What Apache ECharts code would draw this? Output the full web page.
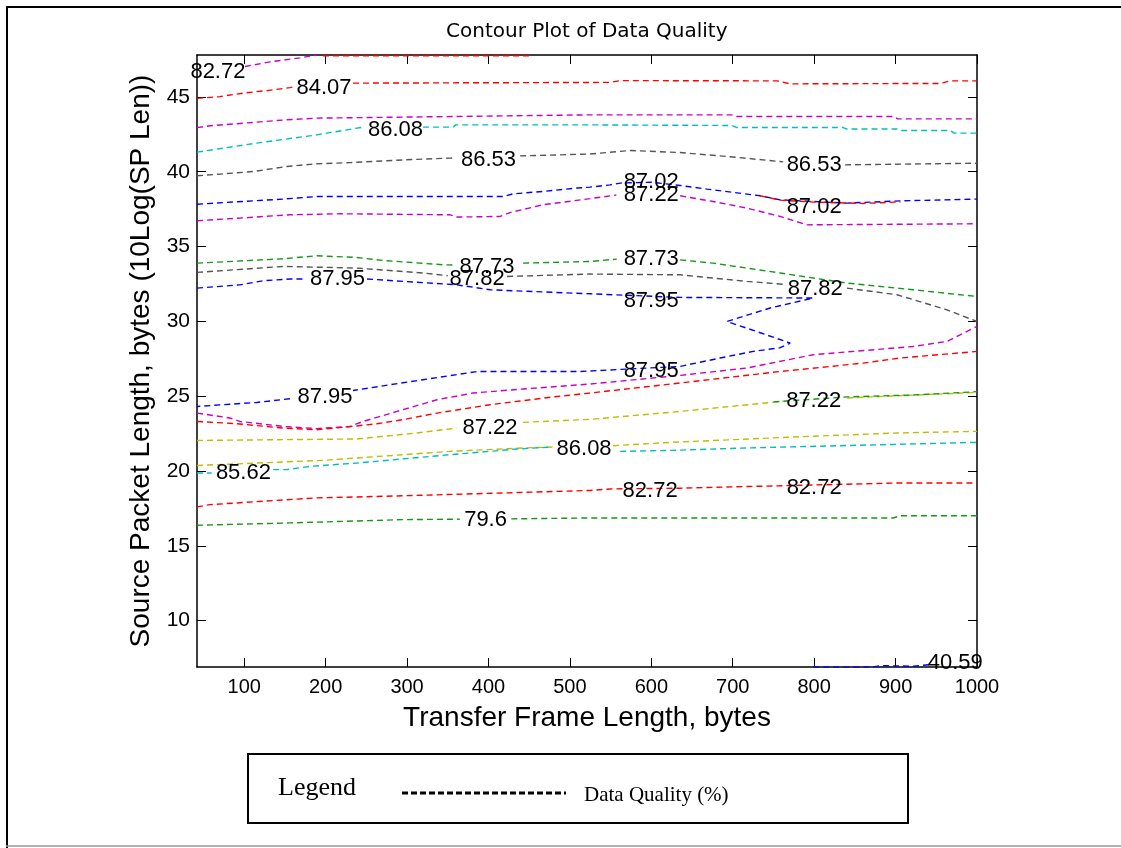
<!DOCTYPE html>
<html><head><meta charset="utf-8">
<script src="https://cdn.jsdelivr.net/npm/echarts@6/dist/echarts.min.js"></script>
<style>html,body{margin:0;padding:0;background:#fff}#c{width:1121px;height:848px}</style>
</head><body><div id="c"></div>
<script>
// ---- data ----
const xTicks = [100, 200, 300, 400, 500, 600, 700, 800, 900, 1000];
const yTicks = [10, 15, 20, 25, 30, 35, 40, 45];

// contour lines, each a list of segments of [x, y] points
const redTop = [[[196.7,47.75],[451.1,47.75]]];
const magentaTop = [[[100.9,47.03],[131.6,47.34],[168.4,47.61],[189,47.8]]];
const red8407 = [
  [[42,44.9],[70.1,45.02],[100.9,45.27],[127.9,45.42],[156.2,45.62],[160,45.66]],
  [[233.6,45.92],[549.4,45.97],[561.7,46.09],[754.6,46.07],[770.6,45.87],[954.9,45.9],[967.2,46.07],[1000,46.07]]
];
const magenta85 = [[[42,42.95],[57.9,43.07],[152.1,43.47],[189,43.58],[524.8,43.8],[698.9,43.8],[705,43.69],[897.1,43.69],[903,43.53],[1000,43.53]]];
const cyan8608 = [
  [[42,41.31],[115.2,41.91],[189,42.46],[245.9,42.98],[248,42.98]],
  [[319.6,42.98],[356.4,42.98],[360,43.13],[524.8,43.13],[698.9,43.09],[705,42.95],[835.7,42.95],[840,42.85],[902,42.85],[906,42.75],[967.2,42.75],[972,42.58],[1000,42.58]]
];
const gray8653 = [
  [[42,39.73],[70.1,39.84],[110.7,40.01],[152.1,40.35],[189,40.53],[229.9,40.61],[295,40.79],[352.8,40.91],[358,40.92]],
  [[438.8,41.06],[524.8,41.18],[574,41.42],[635.4,41.28],[692.8,41.02],[758.3,40.68],[762,40.66]],
  [[838,40.46],[1000,40.57]]
];
const blue8702 = [[[42,37.83],[147.6,38.17],[189,38.34],[417.9,38.34],[430.2,38.52],[467,38.68],[508.9,38.91],[524.8,38.97],[549.4,39.12],[561.7,39.24],[600,39.3],[635.4,39.08],[668.2,38.84],[733.7,38.39],[758.3,38.12],[840.2,37.9],[905.7,38.05],[1000,38.17]]];
const red8702 = [[[733.7,38.39],[758.3,38.1],[800,37.97],[860,37.88],[906,37.98]]];
const magenta8722 = [
  [[42,36.72],[156.2,37.12],[217.6,37.19],[352.8,37.12],[361,36.97],[414.2,37.01],[426.5,37.27],[467,37.79],[524.8,38.2],[557,38.44]],
  [[635.4,38.39],[675.9,38.01],[717.3,37.57],[758.3,37.01],[791.1,36.45],[1000,36.52]]
];
const green8773 = [
  [[42,33.89],[147.6,34.18],[189,34.38],[238.1,34.27],[270.8,34.07],[344.2,33.78],[358,33.76]],
  [[442.5,33.89],[524.8,34.0],[557.6,34.16]],
  [[635.4,34.11],[675.9,33.89],[717.3,33.56],[758.3,33.23],[840.2,32.56],[921.7,32.11],[1000,31.66]]
];
const gray8782 = [
  [[42,33.27],[147.6,33.67],[238.1,33.56],[319.6,33.23],[350,33.05]],
  [[422.8,33.0],[524.8,33.16],[635.4,33.11],[717.3,32.67],[762,32.48]],
  [[840.2,32.22],[901.7,31.78],[963.1,30.77],[1000,29.99]]
];
const blue8795 = [
  [[42,32.22],[94.7,32.44],[123,32.71],[156.2,32.83],[174,32.83]],
  [[250.8,32.83],[361.4,32.44],[401.9,32.11],[524.8,31.84],[635.4,31.6],[798.8,31.56],[746,30.89],[692.8,29.99],[733.7,29.24],[770.6,28.55],[758.3,28.24],[725.1,27.99],[684.5,27.55],[635.4,26.99],[512.5,26.65],[386,26.65],[319.6,26.1],[279,25.76],[233.6,25.38]],
  [[156.2,24.83],[115.2,24.58],[42,24.31]]
];
const magentaLow = [[[42,23.87],[82.4,23.54],[94.7,23.31],[147.6,22.98],[189,22.83],[229.9,22.98],[245.9,23.31],[287.6,23.98],[336.8,24.76],[381,25.21],[442.5,25.48],[524.8,25.81],[635.4,26.39],[717.3,26.88],[798.8,27.77],[921.7,28.32],[963.1,28.66],[1000,29.66]]];
const redLow = [[[42,23.31],[90.7,23.16],[147.6,22.87],[189,22.76],[226.2,22.94],[263.1,23.16],[295,23.43],[336.8,23.87],[401.9,24.43],[484.3,24.98],[524.8,25.21],[635.4,25.88],[758.3,26.65],[860.2,27.21],[905.7,27.55],[1000,27.99]]];
const yellow8722 = [
  [[42,22.04],[238.5,22.14],[312.2,22.54],[361,22.87]],
  [[442.5,23.25],[524.8,23.45],[635.4,23.98],[762,24.66]],
  [[840.6,24.88],[1000,25.25]]
];
const green8722 = [[[750,24.62],[840.6,24.95],[921.7,25.08],[1000,25.3]]];
const yellowLow = [
  [[42,20.37],[196.7,20.71],[352.8,21.31],[442.5,21.54],[480,21.6]],
  [[553.1,21.69],[623.1,21.91],[774.3,22.27],[902,22.54],[1000,22.65]]
];
const cyanLow = [
  [[42,19.87],[60,19.87]],
  [[135.6,20.09],[152.5,20.09],[180.7,20.31],[238.5,20.53],[352.8,21.09],[435.1,21.47],[478,21.6]],
  [[561.7,21.31],[626.8,21.38],[717.3,21.54],[1000,21.91]]
];
const red8272 = [[[42,17.6],[57.9,17.75],[152.5,18.08],[189.3,18.2],[299.9,18.35],[442.5,18.57],[524.8,18.7],[549.4,18.8],[635.4,18.85],[725.1,18.97],[905.7,19.2],[1000,19.2]]];
const green796 = [
  [[42,16.37],[156.2,16.53],[295,16.75],[365,16.78]],
  [[428,16.8],[524.8,16.86],[897.1,16.86],[905.7,17.01],[1000,17.01]]
];
const blueBottom = [[[798.8,6.9],[872.5,6.9],[881.1,6.99],[921.7,6.95],[942.6,7.06]]];

// contour labels: [x, y, text]
const contourLabels = [
  [67.7,46.67,'82.72'],[197.9,45.6,'84.07'],[285.8,42.77,'86.08'],[400.1,40.76,'86.53'],
  [800,40.48,'86.53'],[599.8,39.29,'87.02'],[600,38.44,'87.22'],[800,37.62,'87.02'],
  [398.2,33.65,'87.73'],[386,32.85,'87.82'],[214.5,32.81,'87.95'],[599.8,34.15,'87.73'],
  [801.3,32.18,'87.82'],[599.8,31.34,'87.95'],[599.8,26.68,'87.95'],[199.2,24.93,'87.95'],
  [401.9,22.89,'87.22'],[799.4,24.66,'87.22'],[517.4,21.49,'86.08'],[99,19.87,'85.62'],
  [598.5,18.64,'82.72'],[800,18.86,'82.72'],[396.4,16.75,'79.6'],[973.3,7.19,'40.59']
];

// ---- styling ----
const C = {red:'#ff0000', magenta:'#c800c8', cyan:'#00bebe', gray:'#555555', blue:'#0000ff', green:'#159915', yellow:'#bebe00'};
const contours = [
  [redTop, C.red], [magentaTop, C.magenta], [red8407, C.red], [magenta85, C.magenta],
  [cyan8608, C.cyan], [gray8653, C.gray], [blue8702, C.blue], [red8702, C.red],
  [magenta8722, C.magenta], [green8773, C.green], [gray8782, C.gray], [blue8795, C.blue],
  [magentaLow, C.magenta], [redLow, C.red], [yellow8722, C.yellow], [green8722, C.green],
  [yellowLow, C.yellow], [cyanLow, C.cyan], [red8272, C.red], [green796, C.green], [blueBottom, C.blue]
];

const FONT = 'Liberation Sans, Arial, sans-serif';
const SERIF = 'Liberation Serif, Times New Roman, serif';
const series = [];
contours.forEach(([segs, color]) => {
  segs.forEach(seg => {
    series.push({
      type: 'line', data: seg, showSymbol: false, symbol: 'none', silent: true,
      lineStyle: {color: color, width: 1.4, type: [6, 4]}, z: 2
    });
  });
});
series.push({
  type: 'scatter', data: contourLabels, symbolSize: 1, silent: true, z: 5,
  itemStyle: {color: 'rgba(0,0,0,0)'},
  encode: {x: 0, y: 1},
  label: {show: true, position: 'inside', formatter: p => p.data[2], fontSize: 22,
    color: '#000', textBorderWidth: 0, textBorderColor: 'transparent', opacity: 1, fontFamily: FONT}
});

const axisCommon = {
  axisLine: {show: true, onZero: false, lineStyle: {color: '#000', width: 1.5}},
  splitLine: {show: false}
};
const chart = echarts.init(document.getElementById('c'), null, {renderer: 'canvas'});
chart.setOption({
  animation: false,
  backgroundColor: '#fff',
  title: {text: 'Contour Plot of Data Quality', left: 441, top: 17,
    textStyle: {fontSize: 20, fontWeight: 'normal', color: '#000', fontFamily: 'DejaVu Sans, sans-serif'}},
  grid: {left: 197, right: 144, top: 55, bottom: 181},
  xAxis: [
    Object.assign({type: 'value', min: 42, max: 1000, position: 'bottom',
      axisTick: {show: true, inside: true, length: 9, customValues: xTicks, lineStyle: {color: '#000'}},
      axisLabel: {customValues: xTicks, formatter: v => String(v), fontSize: 20, color: '#000', margin: 10, fontFamily: FONT},
      name: 'Transfer Frame Length, bytes', nameLocation: 'middle', nameGap: 37,
      nameTextStyle: {fontSize: 28, color: '#000', fontFamily: FONT}}, axisCommon),
    Object.assign({type: 'value', min: 42, max: 1000, position: 'top',
      axisTick: {show: true, inside: true, length: 9, customValues: xTicks, lineStyle: {color: '#000'}},
      axisLabel: {show: false}}, axisCommon)
  ],
  yAxis: [
    Object.assign({type: 'value', min: 6.9, max: 47.8, position: 'left',
      axisTick: {show: true, inside: true, length: 9, customValues: yTicks, lineStyle: {color: '#000'}},
      axisLabel: {customValues: yTicks, formatter: v => String(v), fontSize: 21, color: '#000', margin: 7, fontFamily: FONT},
      name: 'Source Packet Length, bytes (10Log(SP Len))', nameLocation: 'middle', nameGap: 40,
      nameTextStyle: {fontSize: 28, color: '#000', fontFamily: FONT}}, axisCommon),
    Object.assign({type: 'value', min: 6.9, max: 47.8, position: 'right',
      axisTick: {show: true, inside: true, length: 9, customValues: yTicks, lineStyle: {color: '#000'}},
      axisLabel: {show: false}}, axisCommon)
  ],
  series: series,
  graphic: [
    {type: 'line', shape: {x1: 6, y1: 7, x2: 1121, y2: 7}, style: {stroke: '#000', lineWidth: 2}},
    {type: 'line', shape: {x1: 7, y1: 6, x2: 7, y2: 848}, style: {stroke: '#000', lineWidth: 2}},
    {type: 'line', shape: {x1: 6, y1: 846, x2: 1121, y2: 846}, style: {stroke: '#999', lineWidth: 1.5}},
    {type: 'rect', shape: {x: 248, y: 754, width: 660, height: 69}, style: {fill: 'none', stroke: '#000', lineWidth: 2}},
    {type: 'text', x: 278, y: 788, style: {text: 'Legend', fontSize: 26, fontFamily: SERIF, fill: '#000', textVerticalAlign: 'middle'}},
    {type: 'line', shape: {x1: 402, y1: 793, x2: 566, y2: 793}, style: {stroke: '#000', lineWidth: 3, lineDash: [6, 3]}},
    {type: 'text', x: 584, y: 795, style: {text: 'Data Quality (%)', fontSize: 21, fontFamily: SERIF, fill: '#000', textVerticalAlign: 'middle'}}
  ]
});
</script></body></html>
